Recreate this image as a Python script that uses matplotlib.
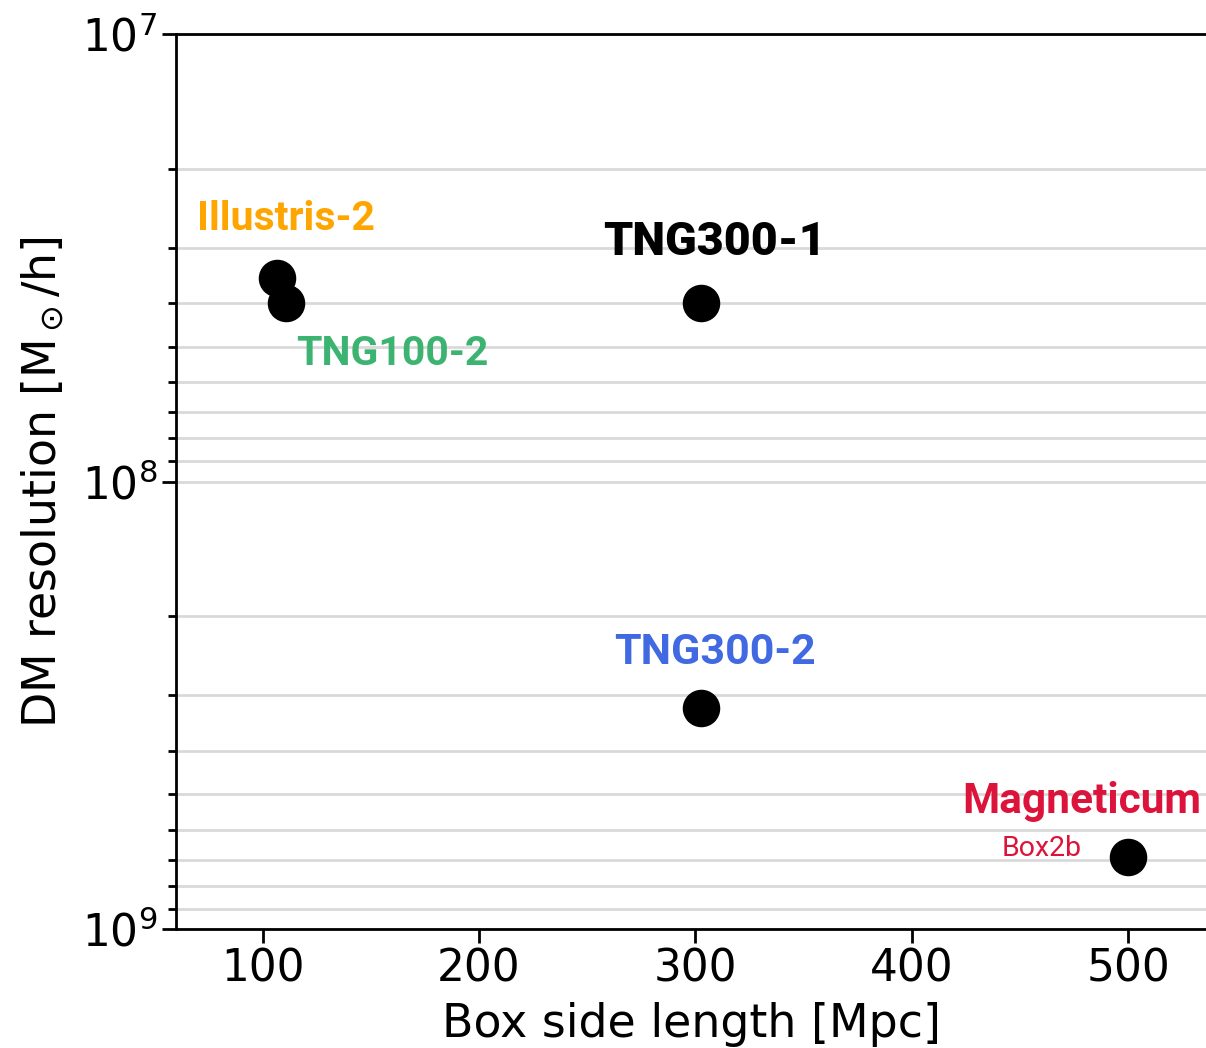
import matplotlib
matplotlib.use("Agg")
from matplotlib import pyplot as plt

# simulation box sizes [Mpc] and DM particle mass [Msun/h]
names = ["Illustris-2", "TNG100-2", "TNG300-1", "TNG300-2", "Magneticum"]
box_size = [106.5, 110.7, 302.6, 302.6, 500]
dm_mass = [3.5e7, 4.0e7, 4.0e7, 3.2e8, 6.9e8]
colors = ["#FFA500", "#3CB371", "black", "#4169E1", "#DC143C"]

# label placement (x, y) in data coords, and label styling
label_pos = [(110.6, 2.59e7), (160, 5.2e7), (308.8, 2.92e7), (309.2, 2.41e8), (478.5, 5.18e8)]
label_size = [29.5, 29.5, 33.5, 31, 30.5]
label_weight = ["bold", "bold", 900, "bold", "bold"]
sub_label = "Box2b"
sub_pos = (460, 6.62e8)

fig = plt.figure(figsize=(12.06, 10.48), dpi=100)
ax = fig.add_axes([0.146, 0.1135, 0.854, 0.854])

ax.plot(box_size, dm_mass, "o", color="black", markersize=26, linestyle="none", zorder=3)

for name, c, (lx, ly), fs, fw in zip(names, colors, label_pos, label_size, label_weight):
    ax.text(lx, ly, name, color=c, fontsize=fs, fontweight=fw, family="Roboto",
            ha="center", va="center")
ax.text(sub_pos[0], sub_pos[1], sub_label, color="#DC143C", fontsize=20.5, family="Roboto",
        ha="center", va="center")

ax.set_yscale("log")
ax.set_ylim(1e9, 1e7)
ax.set_xlim(60, 536)
ax.set_xticks([100, 200, 300, 400, 500])
ax.grid(True, which="both", axis="y", color="#d9d9d9", linewidth=2)
ax.set_axisbelow(True)

ax.spines["right"].set_visible(False)
for s in ["top", "left", "bottom"]:
    ax.spines[s].set_linewidth(2)
ax.tick_params(which="major", length=10, width=2, labelsize=31.5)
ax.tick_params(which="minor", length=6, width=2)

ax.set_xlabel("Box side length [Mpc]", fontsize=33, labelpad=8)
ax.set_ylabel(r"DM resolution [M$_\odot$/h]", fontsize=33, labelpad=11)

fig.savefig("out.png", dpi=100)
